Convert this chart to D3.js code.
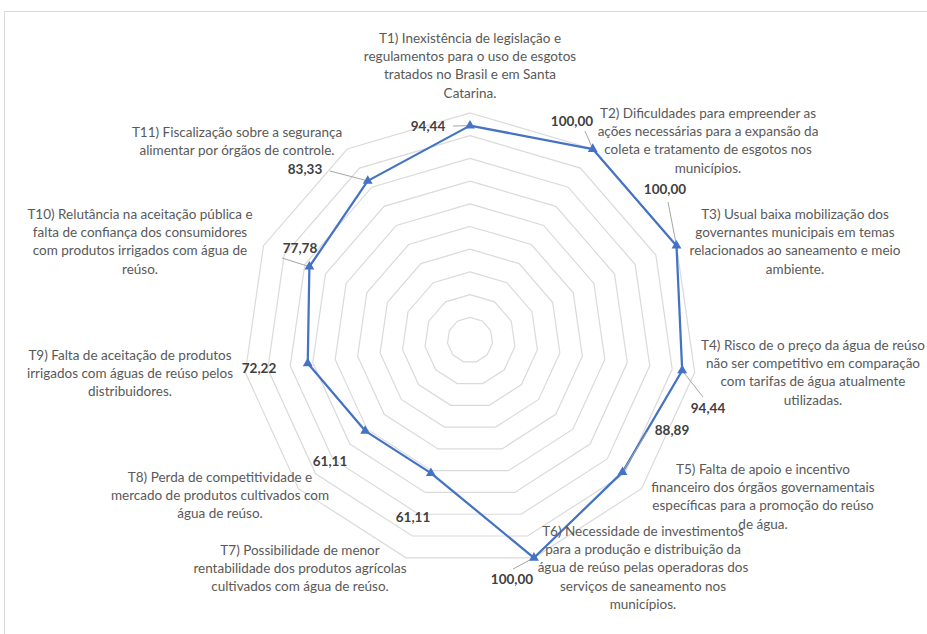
<!DOCTYPE html>
<html lang="pt">
<head>
<meta charset="utf-8">
<script src="https://cdn.jsdelivr.net/npm/d3@7"></script>
<style>
  body { margin: 0; background: #fff; }
  svg { display: block; }
</style>
</head>
<body>
<div id="chart"></div>
<script>
// categories (each is one label, split in lines as in the picture)
const categories = [
  ["T1) Inexistência de legislação e", "regulamentos para o uso de esgotos", "tratados no Brasil e em Santa", "Catarina."],
  ["T2) Dificuldades para empreender as", "ações necessárias para a expansão da", "coleta e tratamento de esgotos nos", "municípios."],
  ["T3) Usual baixa mobilização dos", "governantes municipais em temas", "relacionados ao saneamento e meio", "ambiente."],
  ["T4) Risco de o preço da água de reúso", "não ser competitivo em comparação", "com tarifas de água atualmente", "utilizadas."],
  ["T5) Falta de apoio e incentivo", "financeiro dos órgãos governamentais", "específicas para a promoção do reúso", "de água."],
  ["T6) Necessidade de investimentos", "para a produção e distribuição da", "água de reúso pelas operadoras dos", "serviços de saneamento nos", "municípios."],
  ["T7) Possibilidade de menor", "rentabilidade dos produtos agrícolas", "cultivados com água de reúso."],
  ["T8) Perda de competitividade e", "mercado de produtos cultivados com", "água de reúso."],
  ["T9) Falta de aceitação de produtos", "irrigados com águas de reúso pelos", "distribuidores."],
  ["T10) Relutância na aceitação pública e", "falta de confiança dos consumidores", "com produtos irrigados com água de", "reúso."],
  ["T11) Fiscalização sobre a segurança", "alimentar por órgãos de controle."]
];
const values = [94.44, 100.00, 100.00, 94.44, 88.89, 100.00, 61.11, 61.11, 72.22, 77.78, 83.33];
const gridTicks = [10, 20, 30, 40, 50, 60, 70, 80, 90, 100];

// layout: where Excel put the category labels (center x, first line y)
const catPos = [
  [470, 43], [708, 118], [795, 219], [813, 350], [763, 474],
  [643, 536], [300, 555], [220, 482], [130, 360], [140, 219], [237, 137]
];
// layout: data label centers and optional leader line ends
const labPos = [
  [428, 128], [572, 123], [665, 191], [708, 410], [672, 432],
  [512, 581], [413, 519], [330, 463], [259, 370], [300, 250], [305, 171]
];
const leaderStart = [
  [453, 126], [585, 131], [668, 202], [703, 397], [647, 432],
  [513, 569], null, null, null, [282, 258], [330, 171]
];

const W = 927, H = 634;
const cx = 470, cy = 340, R = 227;
const n = categories.length;

const svg = d3.select("#chart").append("svg")
  .attr("width", W).attr("height", H);

// frame of the chart area
svg.append("rect")
  .attr("x", 4.5).attr("y", 11.5)
  .attr("width", W + 10).attr("height", H + 10)
  .attr("fill", "#fff").attr("stroke", "#d9d9d9").attr("stroke-width", 1);

const r = d3.scaleLinear().domain([0, 100]).range([0, R]);
const angle = d3.scaleLinear().domain([0, n]).range([0, 2 * Math.PI]);

const g = svg.append("g").attr("transform", `translate(${cx},${cy})`);

// grid polygons
const ringLine = d3.lineRadial()
  .angle((d, i) => angle(i))
  .radius(d => r(d))
  .curve(d3.curveLinearClosed);

g.selectAll(".grid")
  .data(gridTicks)
  .join("path")
  .attr("class", "grid")
  .attr("d", t => ringLine(d3.range(n).map(() => t)))
  .attr("fill", "none")
  .attr("stroke", "#dadada")
  .attr("stroke-width", 1.2);

// point coordinates
function px(i, v) { return cx + r(v) * Math.sin(angle(i)); }
function py(i, v) { return cy - r(v) * Math.cos(angle(i)); }

// leader lines
const leaders = values.map((v, i) => ({ s: leaderStart[i], x: px(i, v), y: py(i, v) }))
  .filter(d => d.s);
svg.selectAll(".leader")
  .data(leaders)
  .join("line")
  .attr("x1", d => d.s[0]).attr("y1", d => d.s[1])
  .attr("x2", d => d.x).attr("y2", d => d.y)
  .attr("stroke", "#a6a6a6").attr("stroke-width", 1);

// series line
g.append("path")
  .datum(values)
  .attr("d", d3.lineRadial()
    .angle((d, i) => angle(i))
    .radius(d => r(d))
    .curve(d3.curveLinearClosed))
  .attr("fill", "none")
  .attr("stroke", "#4472c4")
  .attr("stroke-width", 2.25)
  .attr("stroke-linejoin", "round");

// triangle markers
svg.selectAll(".marker")
  .data(values)
  .join("path")
  .attr("transform", (d, i) => `translate(${px(i, d)},${py(i, d)})`)
  .attr("d", d3.symbol(d3.symbolTriangle).size(42))
  .attr("fill", "#4472c4");

// data labels
svg.selectAll(".vlab")
  .data(values)
  .join("text")
  .attr("x", (d, i) => labPos[i][0])
  .attr("y", (d, i) => labPos[i][1])
  .attr("text-anchor", "middle")
  .attr("dominant-baseline", "middle")
  .attr("font-family", "Lato, 'Open Sans', sans-serif")
  .attr("font-weight", "bold")
  .attr("font-size", 13.5)
  .attr("fill", "#404040")
  .text(d => d.toFixed(2).replace(".", ","));

// category labels
const cat = svg.selectAll(".cat")
  .data(categories)
  .join("text")
  .attr("text-anchor", "middle")
  .attr("font-family", "Lato, 'Open Sans', sans-serif")
  .attr("font-size", 13.5)
  .attr("fill", "#595959");

cat.each(function (lines, i) {
  d3.select(this).selectAll("tspan")
    .data(lines)
    .join("tspan")
    .attr("x", catPos[i][0])
    .attr("y", (l, j) => catPos[i][1] + j * 18.2)
    .text(l => l);
});
</script>
</body>
</html>
